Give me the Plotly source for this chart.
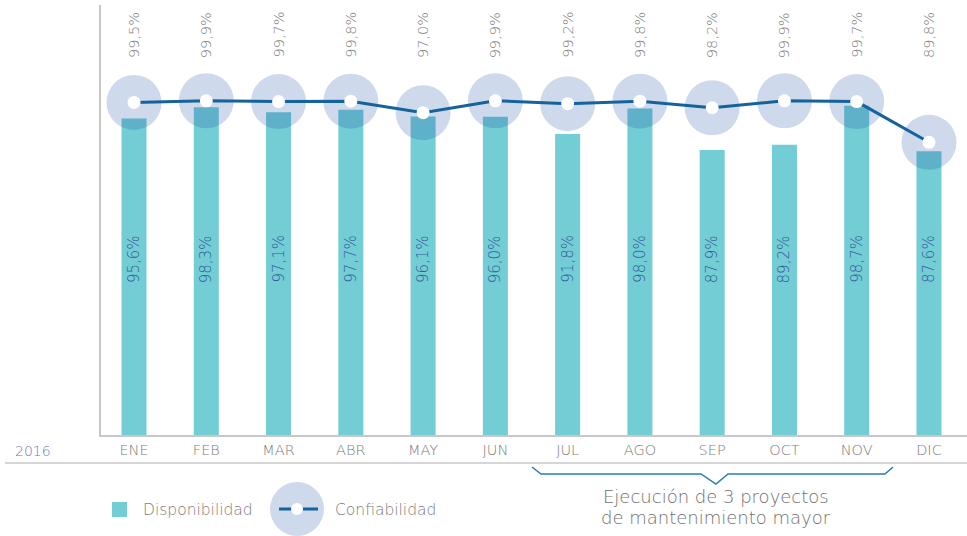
import plotly.graph_objects as go

meses = ["ENE", "FEB", "MAR", "ABR", "MAY", "JUN", "JUL", "AGO", "SEP", "OCT", "NOV", "DIC"]
disponibilidad = [95.6, 98.3, 97.1, 97.7, 96.1, 96.0, 91.8, 98.0, 87.9, 89.2, 98.7, 87.6]
confiabilidad = [99.5, 99.9, 99.7, 99.8, 97.0, 99.9, 99.2, 99.8, 98.2, 99.9, 99.7, 89.8]
anio = "2016"
nota = ["Ejecución de 3 proyectos", "de mantenimiento mayor"]

FONT = "DejaVu Sans"
WT = 200
TEAL = "#72cdd4"
LINE = "#14639d"
HALO = "rgba(15,65,160,0.2)"
GRAY = "#7c7c7c"

W, H = 967, 536
L, T, B = 101, 5, 101
PW, PH = W - L, H - T - B


def X(px):
    return (px - L) / PW


def Y(py):
    return (H - B - py) / PH


def fmt(v):
    return f"{v:.1f}".replace(".", ",") + "%"


def f(size, color):
    return dict(family=FONT, size=size, color=color, weight=WT)


fig = go.Figure()
fig.add_trace(go.Bar(x=meses, y=disponibilidad, marker=dict(color=TEAL, line=dict(width=0)),
                     width=0.346, name="Disponibilidad", hoverinfo="skip"))
fig.add_trace(go.Scatter(x=meses, y=confiabilidad, mode="markers",
                         marker=dict(size=55, color=HALO, line=dict(width=0)),
                         hoverinfo="skip", showlegend=False))
fig.add_trace(go.Scatter(x=meses, y=confiabilidad, mode="lines+markers",
                         line=dict(color=LINE, width=3),
                         marker=dict(size=13, color="white", line=dict(width=0)),
                         name="Confiabilidad", hoverinfo="skip"))

ann = []
for m, c, d in zip(meses, confiabilidad, disponibilidad):
    ann.append(dict(x=m, xref="x", y=Y(35), yref="paper", text=fmt(c), textangle=-90,
                    showarrow=False, xanchor="center", yanchor="middle", font=f(14.5, GRAY)))
    ann.append(dict(x=m, xref="x", y=Y(259), yref="paper", text=fmt(d), textangle=-90,
                    showarrow=False, xanchor="center", yanchor="middle", font=f(15, "#34599a")))

ann.append(dict(x=X(33), y=Y(451), xref="paper", yref="paper", text=anio, showarrow=False,
                xanchor="center", yanchor="middle", font=f(14, "#7676b4")))
ann.append(dict(x=X(141), y=Y(510), xref="paper", yref="paper", text="Disponibilidad", showarrow=False,
                xanchor="left", yanchor="middle", font=f(15.5, GRAY)))
ann.append(dict(x=X(333), y=Y(510), xref="paper", yref="paper", text="Confiabilidad", showarrow=False,
                xanchor="left", yanchor="middle", font=f(15.5, GRAY)))
ann.append(dict(x=X(716), y=Y(497), xref="paper", yref="paper", text=nota[0], showarrow=False,
                xanchor="center", yanchor="middle", font=f(18, "#707070")))
ann.append(dict(x=X(716), y=Y(517), xref="paper", yref="paper", text=nota[1], showarrow=False,
                xanchor="center", yanchor="middle", font=f(18, "#707070")))

shapes = [
    dict(type="line", xref="paper", yref="paper", x0=X(5), x1=X(967), y0=Y(463), y1=Y(463),
         line=dict(color="#c8c8c8", width=1.5)),
    dict(type="path", xref="paper", yref="paper",
         path=(f"M {X(532)},{Y(467)} L {X(541)},{Y(474)} L {X(701)},{Y(474)} L {X(716)},{Y(484)} "
               f"L {X(728)},{Y(474)} L {X(885)},{Y(474)} L {X(893)},{Y(467)}"),
         line=dict(color="#2b7bb5", width=1.5)),
    dict(type="rect", xref="paper", yref="paper", x0=X(112), x1=X(127), y0=Y(517), y1=Y(502),
         fillcolor=TEAL, line=dict(width=0)),
    dict(type="circle", xref="paper", yref="paper", x0=X(270), x1=X(324), y0=Y(536), y1=Y(482),
         fillcolor=HALO, line=dict(width=0)),
    dict(type="line", xref="paper", yref="paper", x0=X(279), x1=X(318), y0=Y(509), y1=Y(509),
         line=dict(color=LINE, width=3)),
    dict(type="circle", xref="paper", yref="paper", x0=X(291), x1=X(303), y0=Y(515), y1=Y(503),
         fillcolor="white", line=dict(width=0)),
]

fig.update_layout(
    width=W, height=H, margin=dict(l=L, r=0, t=T, b=B),
    paper_bgcolor="white", plot_bgcolor="white", showlegend=False,
    font=dict(family=FONT), annotations=ann, shapes=shapes,
    xaxis=dict(range=[-0.457, 11.526], showgrid=False, zeroline=False, showline=True,
               linecolor="#c8c8c8", linewidth=1.5, ticks="", ticklabelstandoff=1,
               tickfont=f(14.5, GRAY), fixedrange=True),
    yaxis=dict(range=[18.6, 123.2], showgrid=False, zeroline=False, showline=True,
               linecolor="#c8c8c8", linewidth=1.5, showticklabels=False, ticks="", fixedrange=True),
)
fig.write_html("out.html", config={"displayModeBar": False},
               post_script="document.body.style.margin='0px';document.body.style.overflow='hidden';")
